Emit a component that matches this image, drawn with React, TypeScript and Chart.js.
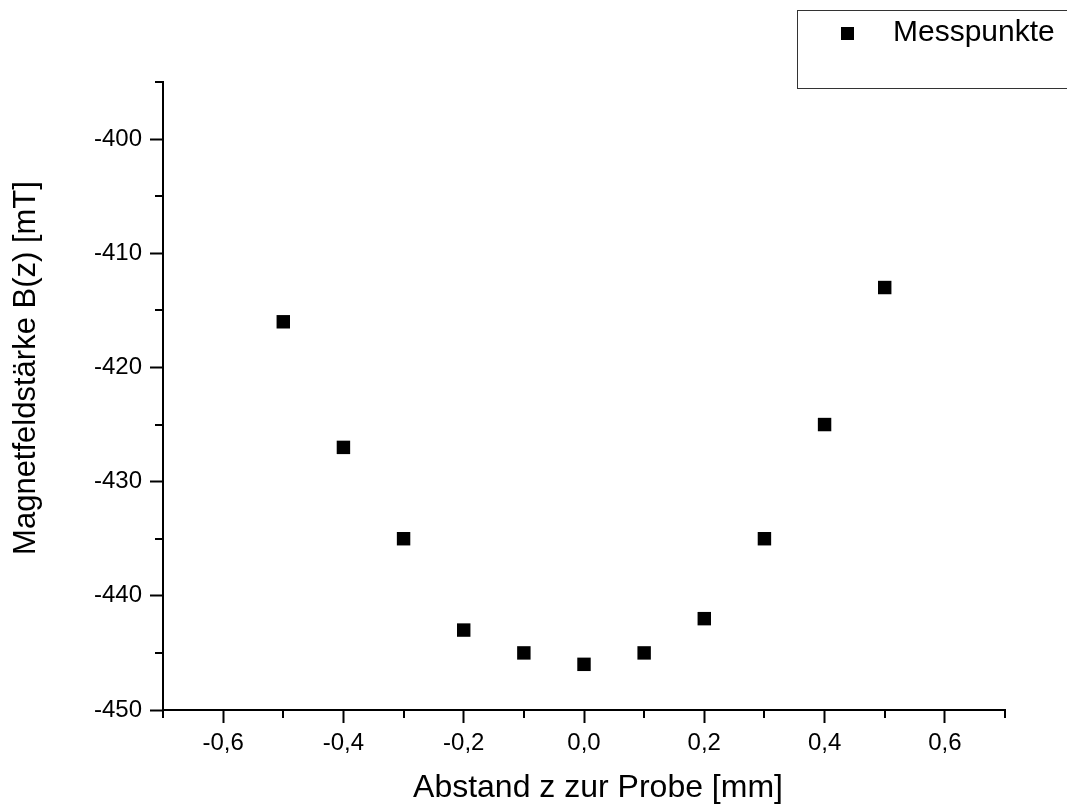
import React, { useEffect, useRef } from 'react';
import { Chart, registerables } from 'chart.js';

Chart.register(...registerables);

// ---- data ----
const zValues = [-0.5, -0.4, -0.3, -0.2, -0.1, 0.0, 0.1, 0.2, 0.3, 0.4, 0.5];
const bValues = [-416, -427, -435, -443, -445, -446, -445, -442, -435, -425, -413];

const xMajorTicks = [-0.6, -0.4, -0.2, 0, 0.2, 0.4, 0.6];
const xMinorTicks = [-0.7, -0.5, -0.3, -0.1, 0.1, 0.3, 0.5, 0.7];
const yMajorTicks = [-450, -440, -430, -420, -410, -400];
const yMinorTicks = [-445, -435, -425, -415, -405, -395];

const xTitle = 'Abstand z zur Probe [mm]';
const yTitle = 'Magnetfeldstärke B(z) [mT]';
const seriesLabel = 'Messpunkte';

const FONT = "'Liberation Sans', Arial, sans-serif";

const fmtX = (v: number) => {
  const n = Math.abs(v) < 1e-9 ? 0 : v;
  return n.toFixed(1).replace('.', ',');
};

const decorPlugin = {
  id: 'decor',
  afterDraw(chart: any) {
    const ctx = chart.ctx as CanvasRenderingContext2D;
    const xs = chart.scales.x;
    const ys = chart.scales.y;
    const { left, bottom } = chart.chartArea;
    ctx.save();
    // minor ticks
    ctx.strokeStyle = '#000';
    ctx.lineWidth = 2;
    ctx.beginPath();
    xMinorTicks.forEach((v) => {
      const px = Math.round(xs.getPixelForValue(v));
      ctx.moveTo(px, bottom);
      ctx.lineTo(px, bottom + 8);
    });
    yMinorTicks.forEach((v) => {
      const py = Math.round(ys.getPixelForValue(v));
      ctx.moveTo(left, py);
      ctx.lineTo(left - 8, py);
    });
    ctx.stroke();

    // axis titles
    ctx.fillStyle = '#000';
    ctx.font = `32px ${FONT}`;
    ctx.textAlign = 'center';
    ctx.textBaseline = 'alphabetic';
    ctx.fillText(xTitle, 598, 797);
    ctx.font = `31px ${FONT}`;
    ctx.save();
    ctx.translate(35, 368);
    ctx.rotate(-Math.PI / 2);
    ctx.fillText(yTitle, 0, 0);
    ctx.restore();

    // legend box
    ctx.strokeStyle = '#333';
    ctx.lineWidth = 1;
    ctx.strokeRect(797.5, 10.5, 320, 78);
    ctx.fillStyle = '#000';
    ctx.fillRect(841, 27, 13, 13);
    ctx.font = `30px ${FONT}`;
    ctx.textAlign = 'left';
    ctx.fillText(seriesLabel, 893, 41);
    ctx.restore();
  },
};

export default function App() {
  const ref = useRef<HTMLCanvasElement | null>(null);

  useEffect(() => {
    if (!ref.current) return;
    const chart = new Chart(ref.current, {
      type: 'scatter',
      data: {
        datasets: [
          {
            label: seriesLabel,
            data: zValues.map((x, i) => ({ x, y: bValues[i] })),
            pointStyle: 'rect',
            pointRadius: 9.5,
            pointHoverRadius: 9.5,
            backgroundColor: '#000',
            borderColor: '#000',
            borderWidth: 0,
            showLine: false,
            clip: false as any,
          },
        ],
      },
      options: {
        animation: false,
        responsive: false,
        devicePixelRatio: 1,
        layout: { padding: { top: 82, right: 62, left: 0, bottom: 0 } },
        plugins: {
          legend: { display: false },
          tooltip: { enabled: false },
        },
        scales: {
          x: {
            type: 'linear',
            min: -0.7,
            max: 0.7,
            afterBuildTicks: (s: any) => {
              s.ticks = xMajorTicks.map((value) => ({ value }));
            },
            afterFit: (s: any) => {
              s.height = 95;
            },
            grid: {
              drawOnChartArea: false,
              drawTicks: true,
              tickLength: 13,
              tickWidth: 2,
              tickColor: '#000',
            },
            border: { display: true, width: 2, color: '#000' },
            ticks: {
              color: '#000',
              font: { family: FONT, size: 24 },
              padding: 6,
              maxRotation: 0,
              autoSkip: false,
              callback: (v: any) => fmtX(Number(v)),
            },
          },
          y: {
            type: 'linear',
            min: -450,
            max: -395,
            afterBuildTicks: (s: any) => {
              s.ticks = yMajorTicks.map((value) => ({ value }));
            },
            afterFit: (s: any) => {
              s.width = 163;
            },
            grid: {
              drawOnChartArea: false,
              drawTicks: true,
              tickLength: 13,
              tickWidth: 2,
              tickColor: '#000',
            },
            border: { display: true, width: 2, color: '#000' },
            ticks: {
              color: '#000',
              font: { family: FONT, size: 24 },
              padding: 8,
              autoSkip: false,
              callback: (v: any) => String(v),
            },
          },
        },
      },
      plugins: [decorPlugin],
    });
    return () => chart.destroy();
  }, []);

  return (
    <div style={{ position: 'fixed', left: 0, top: 0, width: 1067, height: 805, background: '#fff' }}>
      <canvas ref={ref} width={1067} height={805} style={{ display: 'block' }} />
    </div>
  );
}
